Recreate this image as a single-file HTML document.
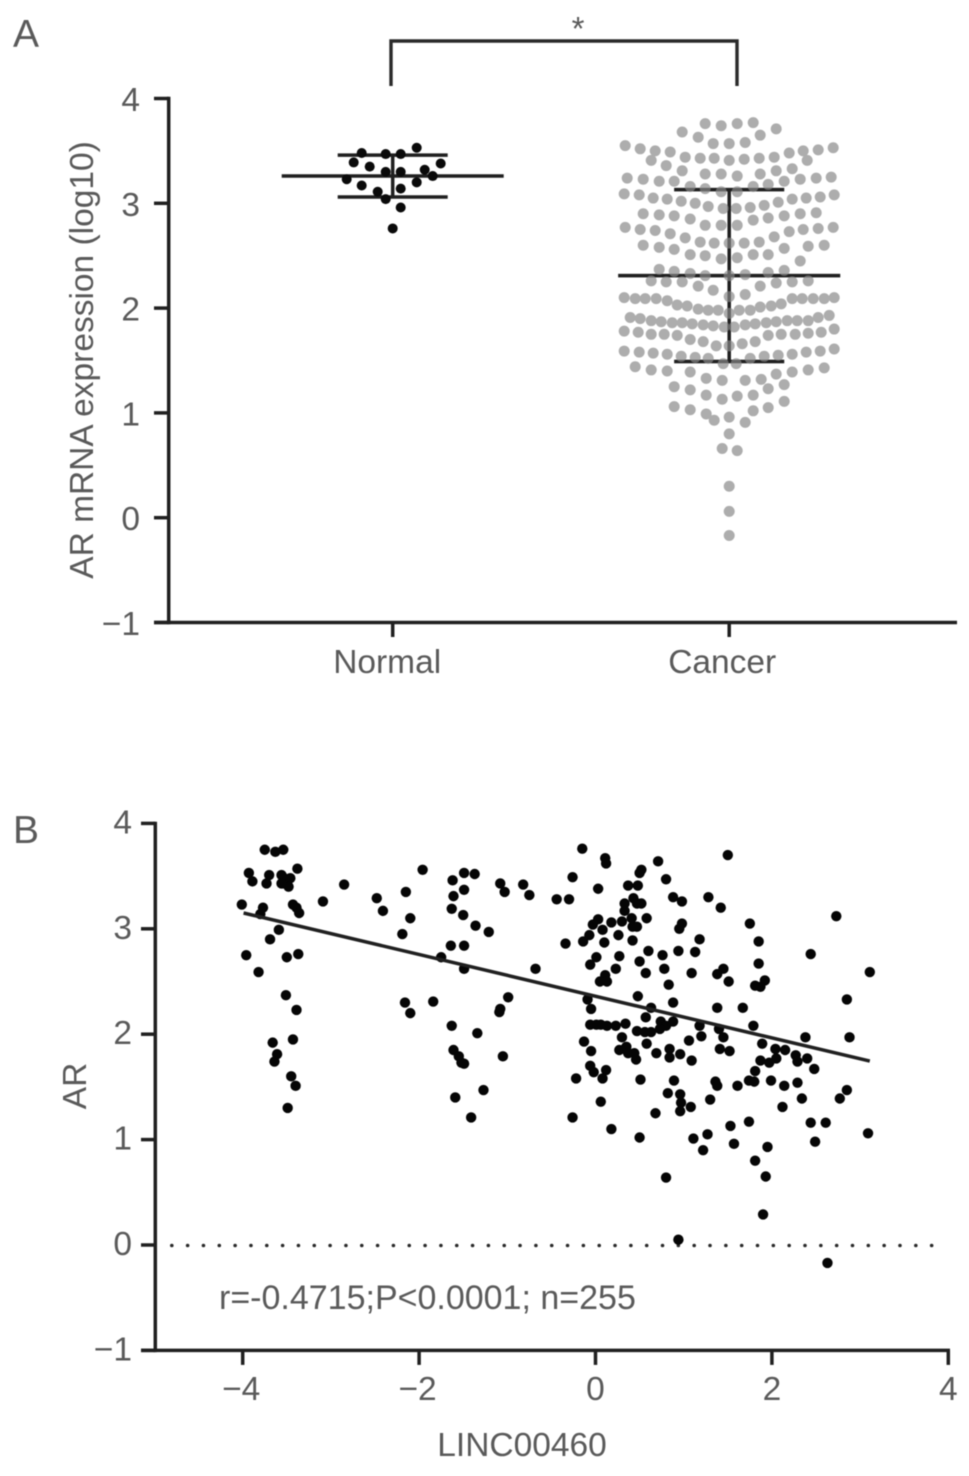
<!DOCTYPE html>
<html lang="en">
<head>
<meta charset="utf-8">
<title>AR mRNA expression and correlation with LINC00460</title>
<style>
html,body{margin:0;padding:0;background:#fff;}
svg{display:block;filter:blur(0.45px);}
text{font-family:"Liberation Sans",sans-serif;fill:#5a5a5a;font-size:33.5px;}
</style>
</head>
<body>
<svg id="figure" xmlns="http://www.w3.org/2000/svg" width="969" height="1476" viewBox="0 0 969 1476">
  <rect x="0" y="0" width="969" height="1476" fill="#ffffff"/>

  <g id="panel-a">
    <text x="13" y="47" style="font-size:39px">A</text>
    <text transform="translate(93,360) rotate(-90)" text-anchor="middle">AR mRNA expression (log10)</text>
    <path d="M391 86V41H737V86" fill="none" stroke="#2a2a2a" stroke-width="3.4"/>
    <text x="578" y="40" text-anchor="middle" style="font-size:33px">*</text>
  </g>

  <g id="panel-b">
    <text x="13" y="843" style="font-size:39px">B</text>
    <text transform="translate(86,1086) rotate(-90)" text-anchor="middle">AR</text>
    <text x="522" y="1456" text-anchor="middle">LINC00460</text>
    <text x="219" y="1309" style="font-size:34px">r=-0.4715;P&lt;0.0001; n=255</text>
  </g>
</svg>

<script>
// Panel A: y axis
const panelAYTicks = [4, 3, 2, 1, 0, -1];
const panelAYLabels = ['4', '3', '2', '1', '0', '\u22121'];
const panelACategories = ['Normal', 'Cancer'];

// Panel A: Normal group
const normalValues = [
  3.53, 3.48, 3.47, 3.47, 3.39, 3.35, 3.38, 3.32, 3.30, 3.30,
  3.26, 3.23, 3.20, 3.17, 3.11, 3.14, 3.04, 2.96, 2.76
];
const normalSpread = [
  24, -31, -7, 8, -39, -23, 48, 32, -7, 8,
  40, -46, 24, -31, -15, 8, -7, 8, 0
];
const normalStats = [3.26, 3.46, 3.06]; // mean, upper SD, lower SD

// Panel A: Cancer group
const cancerValues = [
  3.76,3.74,3.76,3.77,3.71,3.65,3.68,3.63,3.57,3.57,3.58,
  3.55,3.52,3.50,3.49,3.48,3.50,3.51,3.53,
  3.44,3.43,3.43,3.41,3.42,3.43,3.44,3.41,3.36,3.41,
  3.31,3.28,3.28,3.26,3.28,3.31,3.33,
  3.24,3.23,3.21,3.21,3.16,3.16,3.18,3.21,3.23,3.24,3.25,
  3.14,3.11,3.11,
  3.09,3.08,3.05,3.04,3.02,3.00,2.97,2.95,2.95,2.96,2.98,3.01,3.04,3.05,3.06,3.08,
  2.90,2.89,2.88,2.85,2.84,2.86,2.88,2.90,2.91,
  2.79,2.79,2.79,
  2.77,2.75,2.74,2.71,2.67,2.63,2.62,2.62,2.62,2.63,2.68,2.73,2.75,2.76,2.77,
  2.60,2.58,2.56,2.51,2.50,2.47,2.48,2.51,2.51,2.57,2.59,2.60,
  2.45,
  2.37,2.35,2.33,2.31,2.31,2.32,2.34,2.36,
  2.26,2.25,2.25,2.21,2.17,2.11,2.13,2.21,2.24,2.25,2.26,
  2.10,2.09,2.09,2.09,2.07,2.03,2.02,1.99,1.98,1.98,1.95,1.98,1.98,2.01,2.02,2.04,2.09,2.09,2.09,2.09,2.10,
  1.91,1.90,1.88,1.87,1.86,1.86,1.85,1.84,1.83,1.82,1.82,1.84,1.85,1.86,1.87,1.88,1.88,1.88,1.91,1.93,
  1.78,1.77,1.75,1.75,1.74,1.70,1.68,1.64,1.64,1.66,1.68,1.74,1.75,1.75,1.76,1.77,1.80,
  1.59,1.58,1.57,1.56,1.54,1.53,1.52,1.47,1.47,1.52,1.54,1.55,1.56,1.58,1.59,1.61,
  1.44,1.41,1.40,1.39,1.33,1.31,1.31,1.32,1.37,1.39,1.41,1.43,
  1.25,1.22,1.17,1.13,1.16,1.17,1.23,1.27,
  1.06,1.03,0.99,0.93,0.96,0.91,1.02,1.05,1.11,
  0.80,0.66,0.64,
  0.30,0.06,-0.17
];
const cancerSpread = [
  -24,-8,8,24,47,31,-47,-31,-16,0,16,
  -104,-89,-74,-59,60,74,89,104,
  -44,-29,-15,0,15,30,45,-78,-63,78,
  -47,-24,-8,8,31,47,63,
  -102,-86,-70,-55,-39,24,39,55,71,87,102,
  -24,-8,8,
  -105,-90,-76,-62,-48,-34,-21,-6,7,21,35,49,63,77,91,105,
  -86,-70,-55,-39,24,39,55,71,87,
  -24,-8,8,
  -104,-89,-74,-59,-44,-29,-15,0,15,30,45,60,74,89,104,
  -86,-70,-55,-39,-24,-8,8,24,39,55,79,95,
  71,
  -70,-55,-39,-24,0,16,39,55,
  -78,-63,-47,-31,-16,0,16,31,47,63,79,
  -105,-94,-84,-73,-62,-52,-42,-31,-21,-11,0,10,21,31,42,52,63,73,84,95,105,
  -99,-89,-78,-68,-57,-47,-37,-26,-16,-5,5,16,26,37,47,58,68,79,89,100,
  -105,-91,-78,-65,-52,-39,-26,-13,0,13,26,39,52,66,79,92,105,
  -105,-90,-76,-62,-48,-34,-21,-6,7,21,35,49,63,77,91,105,
  -94,-78,-62,-39,-23,-7,16,32,47,63,79,95,
  -55,-39,-23,-7,8,24,39,55,
  -55,-39,-23,-15,0,16,24,39,55,
  0,-7,8,
  0,0,0
];
const cancerStats = [2.31, 3.13, 1.49]; // mean, upper SD, lower SD

// Panel B: axes
const panelBYTicks = [4, 3, 2, 1, 0, -1];
const panelBYLabels = ['4', '3', '2', '1', '0', '\u22121'];
const panelBXTicks = [-4, -2, 0, 2, 4];
const panelBXLabels = ['\u22124', '\u22122', '0', '2', '4'];

// Panel B: samples
const scatterX = [
  -3.75,-3.63,-3.54,-3.38,-3.93,-3.70,-3.56,-3.46,-3.89,-3.73,-3.55,-3.48,-3.53,-3.56,-2.85,
  -4.01,-3.77,-3.80,-3.43,-3.39,-3.36,-3.09,-3.59,-3.69,-3.96,-3.50,-3.37,-3.82,-3.51,-3.39,
  -3.66,-3.43,-3.61,-3.64,-3.45,-3.40,-3.49,
  -1.96,-1.49,-1.37,-1.62,-1.08,-1.03,-0.82,-0.75,-2.15,-1.49,-1.61,-2.48,-2.41,-1.63,-1.50,
  -2.10,-1.36,-1.21,-2.19,-1.64,-1.49,-1.75,-1.49,-0.68,-0.99,-1.08,-1.09,-2.16,-2.10,-1.84,
  -1.63,-1.34,-1.61,-1.55,-1.52,-1.49,-1.05,-1.27,-1.59,-1.41,
  -0.15,0.11,0.12,0.71,1.50,0.52,0.50,-0.26,0.80,0.03,0.37,0.48,2.73,-0.44,-0.30,0.88,0.98,
  1.28,1.42,3.11,0.43,0.33,0.47,0.52,0.33,0.03,-0.03,0.18,0.30,0.41,0.58,0.42,0.47,0.08,
  -0.07,0.26,-0.14,0.10,0.42,-0.34,1.75,0.98,0.95,1.18,1.85,0.60,0.76,0.94,1.13,0.01,-0.06,
  0.27,0.50,0.23,0.78,0.57,1.09,1.45,1.38,1.85,1.51,0.11,0.05,0.13,1.92,1.81,1.87,0.83,2.44,
  0.48,-0.09,-0.05,0.88,1.38,1.67,2.85,0.63,0.57,1.79,-0.06,0.01,0.06,0.13,0.23,0.34,0.74,
  0.88,0.80,0.73,1.18,1.40,0.47,0.56,0.63,
  2.38,2.88,-0.13,0.30,0.58,1.06,1.20,1.45,1.89,-0.05,0.27,0.35,0.37,0.44,0.46,0.69,0.84,
  0.84,0.96,1.09,1.41,1.52,2.04,2.15,2.27,2.29,2.40,1.87,1.97,2.05,2.48,-0.06,-0.02,0.12,
  0.08,-0.22,0.51,0.89,1.36,1.38,1.61,1.81,1.74,1.80,1.99,2.14,2.29,0.82,0.96,0.97,1.08,
  0.96,1.30,0.06,2.34,2.12,0.68,-0.26,2.85,2.77,1.74,1.53,0.18,2.44,2.61,0.50,1.11,1.27,
  1.22,1.57,1.95,2.49,3.09,1.81,1.93,0.80,1.90,0.94,2.63
];
const scatterY = [
  3.75,3.73,3.75,3.57,3.53,3.51,3.51,3.48,3.45,3.43,3.43,3.40,3.48,3.43,3.42,
  3.23,3.20,3.14,3.23,3.20,3.15,3.26,2.99,2.90,2.75,2.73,2.76,2.59,2.37,2.23,
  1.92,1.95,1.81,1.74,1.60,1.51,1.30,
  3.56,3.53,3.52,3.46,3.43,3.35,3.42,3.32,3.35,3.37,3.31,3.29,3.17,3.19,3.13,
  3.10,3.03,2.97,2.95,2.84,2.84,2.73,2.62,2.62,2.35,2.24,2.21,2.30,2.20,2.31,
  2.08,2.01,1.85,1.79,1.73,1.72,1.79,1.47,1.40,1.21,
  3.76,3.67,3.62,3.64,3.70,3.56,3.53,3.49,3.47,3.38,3.41,3.41,3.12,3.28,3.28,3.30,3.26,
  3.30,3.20,2.59,3.29,3.24,3.24,3.24,3.17,3.09,3.04,3.06,3.07,3.10,3.10,3.02,3.02,2.99,
  2.94,2.94,2.88,2.87,2.89,2.86,3.05,3.05,3.00,2.90,2.88,2.79,2.75,2.79,2.78,2.73,2.66,
  2.74,2.69,2.62,2.62,2.58,2.58,2.62,2.57,2.67,2.50,2.56,2.50,2.50,2.51,2.46,2.45,2.47,2.76,
  2.36,2.33,2.24,2.30,2.25,2.25,2.33,2.25,2.16,2.08,2.09,2.09,2.09,2.08,2.08,2.10,2.12,
  2.12,2.08,2.05,2.08,2.05,2.03,2.02,2.02,
  1.97,1.97,1.93,1.97,1.91,1.94,1.98,1.97,1.91,1.84,1.85,1.88,1.82,1.82,1.76,1.82,1.86,
  1.78,1.81,1.75,1.86,1.84,1.86,1.85,1.80,1.74,1.77,1.75,1.73,1.77,1.67,1.70,1.64,1.66,
  1.58,1.58,1.57,1.56,1.55,1.51,1.51,1.65,1.56,1.55,1.56,1.51,1.54,1.44,1.43,1.35,1.31,
  1.27,1.38,1.36,1.39,1.31,1.25,1.21,1.47,1.39,1.17,1.13,1.10,1.16,1.16,1.02,1.01,1.05,
  0.90,0.96,0.93,0.98,1.06,0.80,0.65,0.64,0.29,0.05,-0.17
];

// Panel B: regression line end points
const fitX = [-3.99, 3.11];
const fitY = [3.15, 1.745];
const referenceLineValue = [0];

const NS = 'http://www.w3.org/2000/svg';
const INK = '#202020';
const STROKE = 3.5;

// Axis functions
function aY(v) { return 622.5 - (v + 1) * 104.8; }
function aCat(i) { return 392.7 + i * 336.5; }
function aSpread(i, s) { return aCat(i) + s; }
function bX(v) { return 595.5 + v * 88.2; }
function bY(v) { return 1245 - v * 105.4; }

function shape(parent, tag, attrs) {
  const el = document.createElementNS(NS, tag);
  for (const k in attrs) el.setAttribute(k, attrs[k]);
  parent.appendChild(el);
  return el;
}
function rule(parent, x1, y1, x2, y2, width) {
  return shape(parent, 'line', { x1: x1, y1: y1, x2: x2, y2: y2, stroke: INK, 'stroke-width': width || STROKE });
}
function label(parent, x, y, anchor, str) {
  const t = shape(parent, 'text', { x: x, y: y, 'text-anchor': anchor });
  t.textContent = str;
  return t;
}

const panelA = document.getElementById('panel-a');
const panelB = document.getElementById('panel-b');

// ---------- Panel A: axes ----------
const aAxisY = rule(panelA, 168.7, aY(4) - 1.7, 168.7, aY(-1) + 1.7);


const aAxisX = rule(panelA, 154, aY(-1), 957, aY(-1));



panelAYTicks.forEach(function (v, i) {
  const tick = rule(panelA, 154, aY(v), 168.7, aY(v));
  
  
  const lab = label(panelA, 140, aY(v) + 12.5, 'end', panelAYLabels[i]);
  
  
});

panelACategories.forEach(function (name, i) {
  const tick = rule(panelA, aCat(i), aY(-1), aCat(i), aY(-1) + 14.5);
  
  
  const lab = label(panelA, aCat(i) - 5.5 - i * 1.5, 673, 'middle', name);
  
  
});

// ---------- Panel A: summary bars and dots ----------
function drawStats(i, stats, groupName) {
  const g = shape(panelA, 'g', {});
  
  
  const c = aCat(i);
  const meanLine = rule(g, c - 111, aY(stats[0]), c + 111, aY(stats[0]));
  
  
  const upperCap = rule(g, c - 55, aY(stats[1]), c + 55, aY(stats[1]));
  
  
  const lowerCap = rule(g, c - 55, aY(stats[2]), c + 55, aY(stats[2]));
  
  
  const stem = rule(g, c, aY(stats[1]), c, aY(stats[2]));
  
  
}

drawStats(0, normalStats, 'normal');
drawStats(1, cancerStats, 'cancer');

const normalDots = shape(panelA, 'g', { fill: '#0a0a0a' });


normalValues.forEach(function (v, i) {
  const dot = shape(normalDots, 'circle', { cx: aSpread(0, normalSpread[i]), cy: aY(v), r: 5 });
  
  
});

const cancerDots = shape(panelA, 'g', { fill: '#adadad' });


cancerValues.forEach(function (v, i) {
  const dot = shape(cancerDots, 'circle', { cx: aSpread(1, cancerSpread[i]), cy: aY(v), r: 5.5 });
  
  
});

// Redraw the bars faintly through the dots, as in the source figure
const cancerOverlay = shape(panelA, 'g', { opacity: 0.5 });


cancerStats.forEach(function (v, i) {
  const half = i === 0 ? 111 : 55;
  const bar = rule(cancerOverlay, aCat(1) - half, aY(v), aCat(1) + half, aY(v));
  
  
});
const stemOverlay = rule(cancerOverlay, aCat(1), aY(cancerStats[1]), aCat(1), aY(cancerStats[2]));



// ---------- Panel B: axes ----------
const bAxisY = rule(panelB, 155.3, bY(4) - 1.7, 155.3, bY(-1) + 1.7);


const bAxisX = rule(panelB, 141, bY(-1), bX(4) + 1.7, bY(-1));



panelBYTicks.forEach(function (v, i) {
  const tick = rule(panelB, 141, bY(v), 155.3, bY(v));
  
  
  const lab = label(panelB, 132, bY(v) + 10, 'end', panelBYLabels[i]);
  
  
});

panelBXTicks.forEach(function (v, i) {
  const tick = rule(panelB, bX(v), bY(-1), bX(v), bY(-1) + 14.5);
  
  
  const lab = label(panelB, bX(v) - (v < 0 ? 1.5 : 0), 1400, 'middle', panelBXLabels[i]);
  
  
});

// ---------- Panel B: reference line, points, fit ----------
const zeroLine = shape(panelB, 'line', {
  x1: 171.8, y1: bY(referenceLineValue[0]) + 0.5, x2: 937, y2: bY(referenceLineValue[0]) + 0.5,
  stroke: '#2a2a2a', 'stroke-width': 3.6, 'stroke-linecap': 'round', 'stroke-dasharray': '0 15.83'
});



const scatterDots = shape(panelB, 'g', { fill: '#050505' });


scatterX.forEach(function (x, i) {
  const dot = shape(scatterDots, 'circle', { cx: bX(x), cy: bY(scatterY[i]), r: 5.2 });
  
  
});

const fit = rule(panelB, bX(fitX[0]), bY(fitY[0]), bX(fitX[1]), bY(fitY[1]));


</script>
</body>
</html>
